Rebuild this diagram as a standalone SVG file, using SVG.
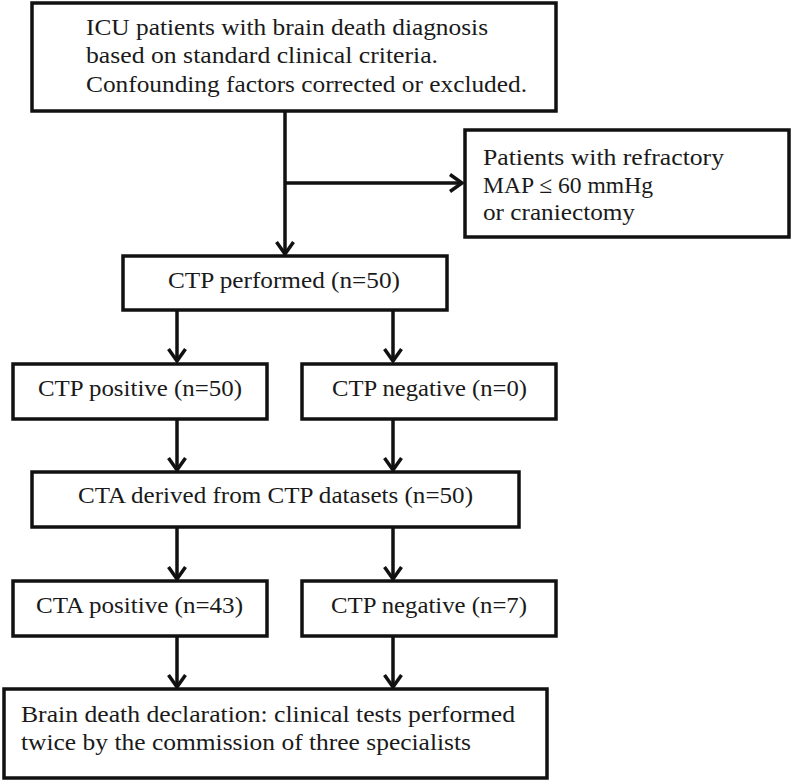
<svg xmlns="http://www.w3.org/2000/svg" width="793" height="784" viewBox="0 0 793 784">
<defs>
<style>
.box{fill:#fff;stroke:#111;stroke-width:3.5}
.t{font-family:"Liberation Serif","Times New Roman",serif;font-size:24px;fill:#1a1a1a}
.ln{fill:none;stroke:#111;stroke-width:3.5}
</style>
<marker id="ah" markerUnits="userSpaceOnUse" viewBox="0 0 16 20" refX="14" refY="10" markerWidth="16" markerHeight="20" orient="auto">
<path d="M2,1.5 L14,10 L2,18.5" fill="none" stroke="#111" stroke-width="3.5"/>
</marker>
</defs>
<rect width="793" height="784" fill="#fff"/>
<g id="connectors">
<line class="ln" x1="285" y1="111" x2="285" y2="254" marker-end="url(#ah)"/>
<line class="ln" x1="285" y1="183" x2="462" y2="183" marker-end="url(#ah)"/>
<line class="ln" x1="177" y1="310" x2="177" y2="361" marker-end="url(#ah)"/>
<line class="ln" x1="393" y1="310" x2="393" y2="361" marker-end="url(#ah)"/>
<line class="ln" x1="177" y1="419" x2="177" y2="470" marker-end="url(#ah)"/>
<line class="ln" x1="393" y1="419" x2="393" y2="470" marker-end="url(#ah)"/>
<line class="ln" x1="177" y1="527" x2="177" y2="579" marker-end="url(#ah)"/>
<line class="ln" x1="393" y1="527" x2="393" y2="579" marker-end="url(#ah)"/>
<line class="ln" x1="177" y1="636" x2="177" y2="687" marker-end="url(#ah)"/>
<line class="ln" x1="393" y1="636" x2="393" y2="687" marker-end="url(#ah)"/>
</g>
<g id="n-icu">
<rect class="box" x="32" y="3" width="524" height="108"/>
<text class="t" x="86" y="35" textLength="402" lengthAdjust="spacingAndGlyphs">ICU patients with brain death diagnosis</text>
<text class="t" x="86" y="63" textLength="352" lengthAdjust="spacingAndGlyphs">based on standard clinical criteria.</text>
<text class="t" x="86" y="92" textLength="441" lengthAdjust="spacingAndGlyphs">Confounding factors corrected or excluded.</text>
</g>
<g id="n-excluded">
<rect class="box" x="465" y="130" width="324" height="107"/>
<text class="t" x="483" y="165" textLength="241" lengthAdjust="spacingAndGlyphs">Patients with refractory</text>
<text class="t" x="483" y="193" textLength="170" lengthAdjust="spacingAndGlyphs">MAP ≤ 60 mmHg</text>
<text class="t" x="483" y="220" textLength="152" lengthAdjust="spacingAndGlyphs">or craniectomy</text>
</g>
<g id="n-ctp">
<rect class="box" x="123" y="256" width="324" height="54"/>
<text class="t" x="168" y="288" textLength="232" lengthAdjust="spacingAndGlyphs">CTP performed (n=50)</text>
</g>
<g id="n-ctp-pos">
<rect class="box" x="13" y="364" width="254" height="55"/>
<text class="t" x="38" y="396" textLength="204" lengthAdjust="spacingAndGlyphs">CTP positive (n=50)</text>
</g>
<g id="n-ctp-neg">
<rect class="box" x="302" y="364" width="254" height="55"/>
<text class="t" x="332" y="396" textLength="195" lengthAdjust="spacingAndGlyphs">CTP negative (n=0)</text>
</g>
<g id="n-cta">
<rect class="box" x="32" y="472" width="487" height="55"/>
<text class="t" x="78" y="503" textLength="395" lengthAdjust="spacingAndGlyphs">CTA derived from CTP datasets (n=50)</text>
</g>
<g id="n-cta-pos">
<rect class="box" x="13" y="581" width="254" height="55"/>
<text class="t" x="36" y="613" textLength="207" lengthAdjust="spacingAndGlyphs">CTA positive (n=43)</text>
</g>
<g id="n-cta-neg">
<rect class="box" x="302" y="581" width="254" height="55"/>
<text class="t" x="331" y="613" textLength="196" lengthAdjust="spacingAndGlyphs">CTP negative (n=7)</text>
</g>
<g id="n-declaration">
<rect class="box" x="4" y="689" width="543" height="89"/>
<text class="t" x="21" y="722" textLength="494" lengthAdjust="spacingAndGlyphs">Brain death declaration: clinical tests performed</text>
<text class="t" x="21" y="750" textLength="450" lengthAdjust="spacingAndGlyphs">twice by the commission of three specialists</text>
</g>
</svg>
